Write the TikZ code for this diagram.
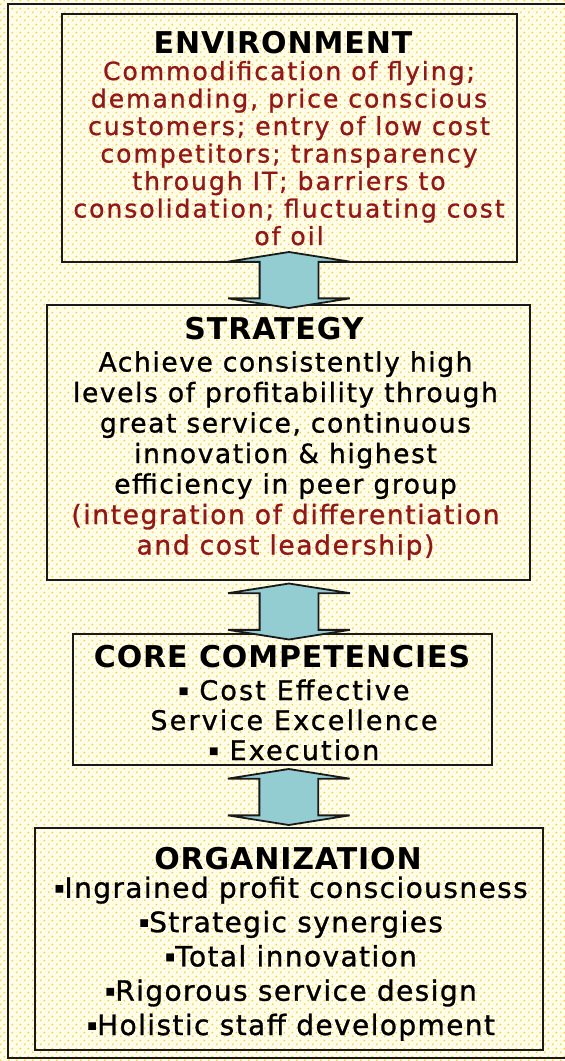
\documentclass[tikz,border=0pt]{standalone}
\usepackage{fontspec}
\setmainfont{DejaVu Sans}
\newfontfamily\envfont[LetterSpace=8,FakeBold=1]{DejaVu Sans}
\newfontfamily\stratfont[LetterSpace=6,FakeBold=1]{DejaVu Sans}
\newfontfamily\corefont[LetterSpace=8,FakeBold=1]{DejaVu Sans}
\newfontfamily\orgfont[LetterSpace=5,FakeBold=1]{DejaVu Sans}
\newfontfamily\headfont[LetterSpace=3]{DejaVu Sans}
\newcommand\sqbul{\raisebox{0.18em}{\fontsize{15}{15}\selectfont ▪}}
\usetikzlibrary{calc,shapes.arrows,patterns.meta}
\definecolor{envR}{RGB}{146,24,24}
\definecolor{linkT}{RGB}{147,205,209}
\definecolor{dotY}{RGB}{244,208,70}
\definecolor{paperY}{RGB}{255,252,232}
\tikzdeclarepattern{name=ydots,type=uncolored,
  bottom left={(0pt,0pt)},top right={(8pt,8pt)},tile size={(8pt,8pt)},
  code={\fill (2pt,2pt) circle (1.1pt); \fill (6pt,6pt) circle (1.1pt);}}

\begin{document}
\begin{tikzpicture}[x=1pt,y=-1pt,
  box/.style={draw=black!90,line width=2.4pt,inner sep=0pt},
  head/.style={font=\headfont\bfseries\fontsize{30}{34}\selectfont,anchor=base,inner sep=0pt},
  body/.style={align=center,anchor=base,inner sep=0pt},
  link/.style={double arrow,draw=black!90,line width=1.8pt,fill=linkT,
    shape border rotate=90,minimum height=56pt,minimum width=0pt,
    inner xsep=28.5pt,inner ysep=0pt,
    double arrow head extend=31.5pt,double arrow tip angle=162}]
\useasboundingbox (0,0) rectangle (565,1061);
\fill[paperY] (0,0) rectangle (565,1061);
\fill[pattern=ydots,pattern color=dotY] (0,0) rectangle (565,1061);
\draw[line width=2.4pt,black!90] (8,4) rectangle (580,1058);

\node[box,minimum width=455pt,minimum height=248pt] (env) at (289.5,138) {};
\node[box,minimum width=483pt,minimum height=275pt] (strat) at (288.5,442.5) {};
\node[box,minimum width=419pt,minimum height=131pt] (core) at (282.5,699.5) {};
\node[box,minimum width=508pt,minimum height=222pt] (org) at (289,939) {};

\node[link] (envlink) at ($(env.south)!.5!(strat.north)+(0,-3.5)$) {};
\node[link] (stratlink) at ($(strat.south)!.5!(core.north)+(3.5,4.5)$) {};
\node[link] (corelink) at ($(core.south)!.5!(org.north)+(3,0.5)$) {};

\node[head] (envhead) at (283,53) {ENVIRONMENT};
\node[body,text=envR,font=\envfont\fontsize{25}{27.5}\selectfont] (envtext) at (289,245)
  {Commodification of flying;\\ demanding, price conscious\\ customers; entry of low cost\\
   competitors; transparency\\ through IT; barriers to\\ consolidation; fluctuating cost\\ of oil};

\node[head] (strathead) at (274,339) {STRATEGY};
\node[body,font=\stratfont\fontsize{26.5}{30.5}\selectfont] (strattext) at (285.5,554.5)
  {Achieve consistently high\\ levels of profitability through\\ great service, continuous\\
   innovation \& highest\\ efficiency in peer group\\
   \textcolor{envR}{(integration of differentiation}\\ \textcolor{envR}{and cost leadership)}};

\node[head] (corehead) at (282,667) {CORE COMPETENCIES};
\node[body,font=\corefont\fontsize{27}{30}\selectfont] (coretext) at (294,760)
  {\sqbul{} Cost Effective\\ Service Excellence\\ \sqbul{} Execution};

\node[head] (orghead) at (288,869) {ORGANIZATION};
\node[body,font=\orgfont\fontsize{28}{34.3}\selectfont] (orgtext) at (291,1035)
  {\sqbul Ingrained profit consciousness\\ \sqbul Strategic synergies\\ \sqbul Total innovation\\
   \sqbul Rigorous service design\\ \sqbul Holistic staff development};
\end{tikzpicture}
\end{document}
